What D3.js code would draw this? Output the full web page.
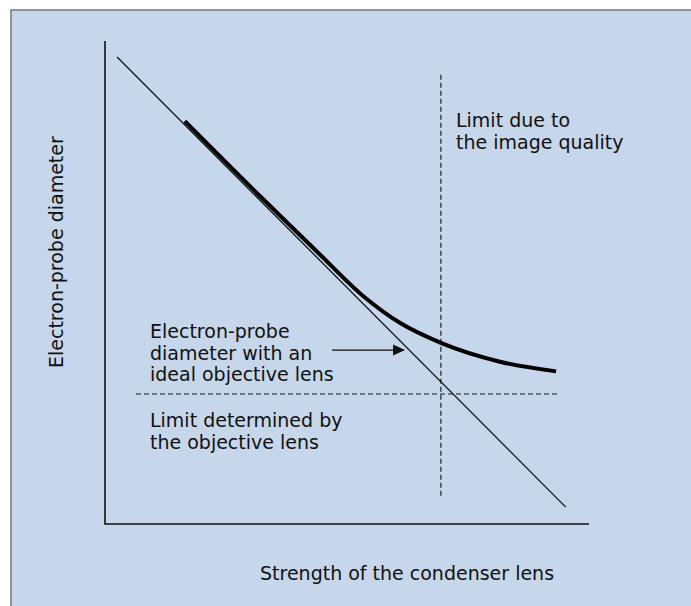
<!DOCTYPE html>
<html>
<head>
<meta charset="utf-8">
<script src="https://cdn.jsdelivr.net/npm/d3@7"></script>
<style>
  body { margin: 0; background: #fff; }
  text { font-family: "DejaVu Sans", sans-serif; font-size: 19px; fill: #111; }
</style>
</head>
<body>
<script>
// schematic chart: arbitrary units 0..100 on both axes
var idealLine = [[2.5, 96.7], [95.2, 3.5]];
var probeCurve = [
  [16.5, 83.4], [32.0, 67.9], [44.4, 55.8], [53.7, 46.9],
  [61.0, 41.6], [69.4, 37.5], [81.6, 33.6], [93.2, 31.6]
];
var objectiveLimit = [[6.4, 26.9], [93.4, 26.9]];
var imageLimit = [[69.4, 93], [69.4, 5.6]];
var arrowLine = [[46.9, 36.0], [62.0, 36.0]];

var labels = {
  x: "Strength of the condenser lens",
  y: "Electron-probe diameter",
  ideal: ["Electron-probe", "diameter with an", "ideal objective lens"],
  objective: ["Limit determined by", "the objective lens"],
  image: ["Limit due to", "the image quality"]
};

var W = 691, H = 606;

var svg = d3.select("body").append("svg")
    .attr("width", W)
    .attr("height", H);

// panel background
svg.append("rect")
    .attr("x", 11).attr("y", 10)
    .attr("width", W + 10).attr("height", H + 10)
    .attr("fill", "#c6d6eb")
    .attr("stroke", "#7a7f86")
    .attr("stroke-width", 1.6);

var x = d3.scaleLinear().domain([0, 100]).range([105, 589]);
var y = d3.scaleLinear().domain([0, 100]).range([524, 41]);

var line = d3.line()
    .x(function(d) { return x(d[0]); })
    .y(function(d) { return y(d[1]); });

// axes (no ticks)
svg.append("path")
    .attr("d", "M" + x(0) + "," + y(100) + "V" + y(0) + "H" + x(100))
    .attr("fill", "none")
    .attr("stroke", "#111")
    .attr("stroke-width", 1.6);

// limit lines
svg.append("path")
    .attr("d", line(objectiveLimit))
    .attr("stroke", "#555b63")
    .attr("stroke-width", 1.4)
    .attr("stroke-dasharray", "5,3");

svg.append("path")
    .attr("d", line(imageLimit))
    .attr("stroke", "#111")
    .attr("stroke-width", 1.1)
    .attr("stroke-dasharray", "5,3");

// ideal lens line
svg.append("path")
    .attr("d", line(idealLine))
    .attr("fill", "none")
    .attr("stroke", "#111")
    .attr("stroke-width", 1.3);

// real probe diameter
svg.append("path")
    .attr("d", d3.line()
        .x(function(d) { return x(d[0]); })
        .y(function(d) { return y(d[1]); })
        .curve(d3.curveMonotoneX)(probeCurve))
    .attr("fill", "none")
    .attr("stroke", "#000")
    .attr("stroke-width", 4);

// arrow
var a0 = arrowLine[0], a1 = arrowLine[1];
svg.append("line")
    .attr("x1", x(a0[0])).attr("y1", y(a0[1]))
    .attr("x2", x(a1[0]) - 10).attr("y2", y(a1[1]))
    .attr("stroke", "#111")
    .attr("stroke-width", 1.3);
svg.append("path")
    .attr("d", "M" + x(a1[0]) + "," + y(a1[1]) + "l-12,-5.5v11z")
    .attr("fill", "#111");

function block(lines, px, py, lh) {
  var t = svg.append("text").attr("x", px).attr("y", py);
  lines.forEach(function(s, i) {
    t.append("tspan").attr("x", px).attr("dy", i ? lh : 0).text(s);
  });
}

block(labels.ideal, 150, 338, 21.5);
block(labels.objective, 150, 427, 21.5);
block(labels.image, 456, 127, 22);

svg.append("text")
    .attr("x", 260).attr("y", 580)
    .text(labels.x);

svg.append("text")
    .attr("transform", "translate(63,368) rotate(-90)")
    .text(labels.y);
</script>
</body>
</html>
